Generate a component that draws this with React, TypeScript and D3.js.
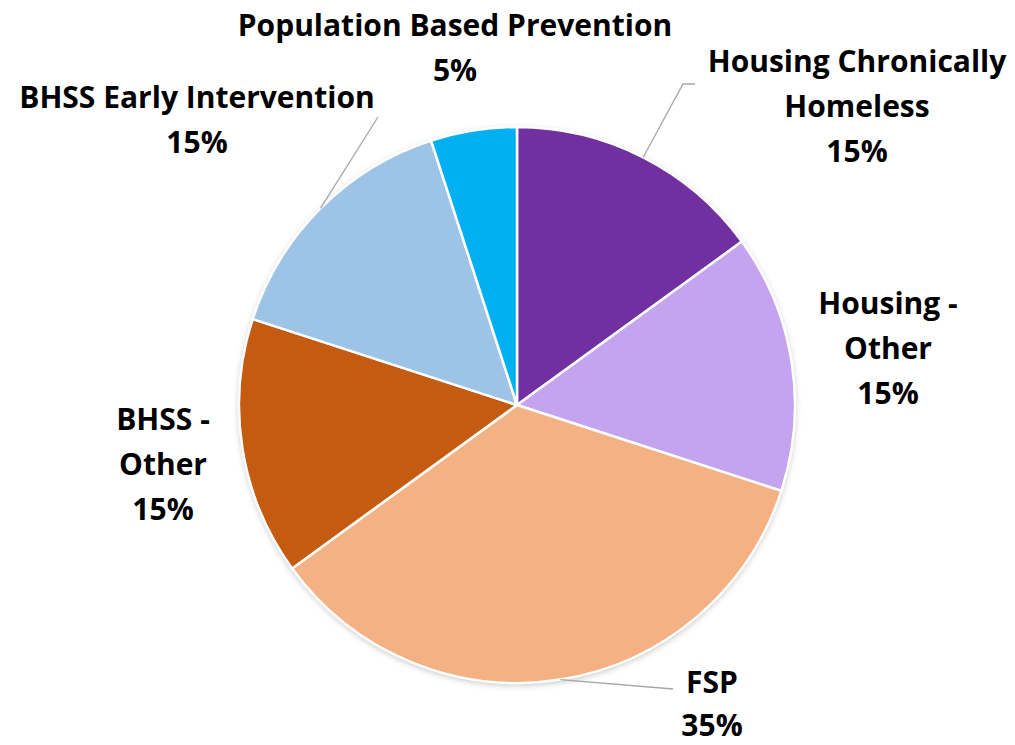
import React, { useEffect, useRef } from "react";
import * as d3 from "d3";

const categories = [
  "Housing Chronically Homeless",
  "Housing - Other",
  "FSP",
  "BHSS - Other",
  "BHSS Early Intervention",
  "Population Based Prevention",
];
const shares = [15, 15, 35, 15, 15, 5];
const colors = ["#7030A0", "#C4A3EF", "#F4B183", "#C55A11", "#9DC3E6", "#00B0F0"];

// label lines as shown in the picture
const labelLines = [
  ["Housing Chronically", "Homeless"],
  ["Housing -", "Other"],
  ["FSP"],
  ["BHSS -", "Other"],
  ["BHSS Early Intervention"],
  ["Population Based Prevention"],
];

// label anchor (center x, first baseline y, line gap) and leader-line elbow
const labelPos = [
  { x: 857, y: 72, gap: 45, elbow: [683, 84], end: [695, 84] },
  { x: 888, y: 314, gap: 45, elbow: null, end: null },
  { x: 712, y: 693, gap: 43, elbow: [673, 689], end: [673, 689] },
  { x: 163, y: 430, gap: 45, elbow: null, end: null },
  { x: 197, y: 108, gap: 45, elbow: [378, 117], end: [378, 117] },
  { x: 455, y: 36, gap: 45, elbow: null, end: null },
];

export default function App() {
  const svgRef = useRef<SVGSVGElement | null>(null);

  useEffect(() => {
    if (!svgRef.current) return;
    const width = 1015;
    const height = 745;
    const cx = 517;
    const cy = 405;
    const r = 278;

    const svg = d3.select(svgRef.current);
    svg.selectAll("*").remove();
    svg.attr("width", width).attr("height", height).attr("viewBox", `0 0 ${width} ${height}`);

    const defs = svg.append("defs");
    const f = defs.append("filter").attr("id", "shadow").attr("x", "-10%").attr("y", "-10%").attr("width", "120%").attr("height", "120%");
    f.append("feDropShadow").attr("dx", 0).attr("dy", 2).attr("stdDeviation", 3).attr("flood-color", "#000").attr("flood-opacity", 0.25);

    const pie = d3.pie<number>().sort(null).value((d) => d);
    const arcs = pie(shares);
    const arc = d3.arc<d3.PieArcDatum<number>>().innerRadius(0).outerRadius(r);

    const g = svg.append("g").attr("transform", `translate(${cx},${cy})`);
    g.append("circle").attr("r", r).attr("fill", "#fff").attr("filter", "url(#shadow)");
    g.selectAll("path.slice")
      .data(arcs)
      .join("path")
      .attr("class", "slice")
      .attr("d", arc)
      .attr("fill", (_, i) => colors[i])
      .attr("stroke", "#fff")
      .attr("stroke-width", 2.5)
      .attr("stroke-linejoin", "round");

    // leader lines
    arcs.forEach((a, i) => {
      const p = labelPos[i];
      if (!p.elbow) return;
      const mid = (a.startAngle + a.endAngle) / 2;
      const sx = cx + r * Math.sin(mid);
      const sy = cy - r * Math.cos(mid);
      const pts: [number, number][] = [[sx, sy], p.elbow as [number, number], p.end as [number, number]];
      svg
        .append("path")
        .attr("d", d3.line()(pts))
        .attr("fill", "none")
        .attr("stroke", "#A6A6A6")
        .attr("stroke-width", 1.3);
    });

    const fmt = d3.format(".0%");
    const total = d3.sum(shares);
    labelLines.forEach((lines, i) => {
      const p = labelPos[i];
      const t = svg
        .append("text")
        .attr("text-anchor", "middle")
        .attr("font-family", "'Open Sans', Lato, sans-serif")
        .attr("font-weight", 700)
        .attr("font-size", 30)
        .attr("fill", "#000");
      [...lines, fmt(shares[i] / total)].forEach((s, j) => {
        t.append("tspan").attr("x", p.x).attr("y", p.y + j * p.gap).text(s);
      });
    });
  }, []);

  return <svg ref={svgRef} style={{ display: "block", position: "absolute", left: 0, top: 0 }} />;
}
